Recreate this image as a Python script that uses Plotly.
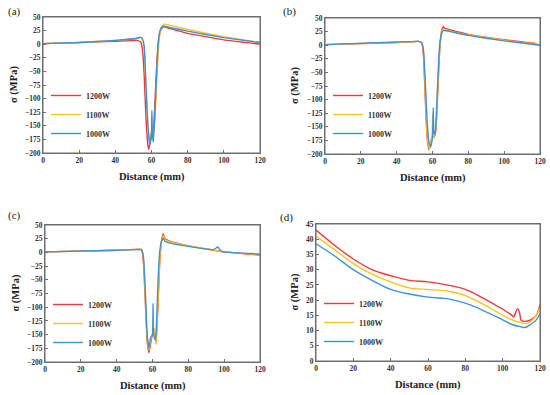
import plotly.graph_objects as go

# ---------------- data ----------------
series_names = ["1200W", "1100W", "1000W"]
colors = ["#F4363B", "#FFC41A", "#3F92D6"]

# panel (a)
a_x_1200 = [0, 20, 40, 52, 54, 55, 56, 57, 58, 58.5, 59, 60, 61, 62, 63, 64, 65, 66, 67, 70, 80, 100, 120]
a_y_1200 = [1, 3, 5.5, 7, 4, -10, -60, -140, -185, -193, -185, -170, -160, -100, -30, 10, 25, 30, 32, 29, 20, 8, 0]
a_x_1100 = [0, 20, 40, 52, 54, 55, 56, 57, 58, 59, 59.7, 60, 61, 62, 63, 64, 65, 66, 67, 70, 80, 100, 120]
a_y_1100 = [1, 3, 7, 10, 12, 8, -10, -80, -150, -180, -165, -160, -178, -130, -60, 0, 25, 33, 37, 35, 27, 14, 3]
a_x_1000 = [0, 20, 40, 52, 54, 55, 56, 57, 58, 59, 59.6, 60, 60.2, 60.5, 61, 62, 63, 64, 65, 66, 67, 70, 80, 100, 120]
a_y_1000 = [1, 3, 7, 11, 13, 10, -5, -80, -150, -185, -175, -162, -122, -165, -180, -120, -40, 10, 28, 33, 33, 31, 24, 12, 3]

# panel (b)
b_x_1200 = [0, 40, 52, 54, 55, 56, 57, 58, 59, 60, 61, 62, 63, 64, 65, 66, 67, 70, 80, 100, 115, 120]
b_y_1200 = [1, 5, 7, 5, -20, -100, -170, -192, -180, -165, -170, -150, -80, -10, 25, 34, 31, 28, 20, 10, 4, 0]
b_x_1100 = [0, 40, 52, 54, 55, 56, 57, 58, 58.5, 59, 59.8, 60.1, 60.5, 61, 62, 63, 64, 65, 66, 67, 70, 80, 100, 115, 116.5, 118, 120]
b_y_1100 = [1, 5, 7, 5, -15, -90, -165, -188, -190, -180, -165, -127, -165, -170, -148, -75, -5, 22, 30, 29, 26, 19, 9, 3, 5.5, 2, 0]
b_x_1000 = [0, 40, 52, 54, 55, 56, 57, 58, 59, 60, 60.4, 60.8, 61.5, 62, 63, 64, 65, 66, 67, 70, 80, 100, 120]
b_y_1000 = [1, 6, 7, 4, -10, -70, -140, -178, -187, -170, -115, -160, -165, -140, -60, 0, 20, 27, 27, 25, 18, 8, 0]

# panel (c)
c_x_1200 = [0, 40, 53, 54, 55, 56, 57, 58, 59, 60, 61, 62, 63, 64, 65, 66, 67, 70, 80, 96, 100, 120]
c_y_1200 = [1, 4, 6, 5, -20, -90, -160, -183, -165, -150, -140, -165, -100, -20, 20, 34, 25, 20, 12, 3, 1, -5]
c_x_1100 = [0, 40, 53, 54, 55, 56, 57, 58, 59, 60, 61, 62, 63, 64, 65, 66, 67, 70, 80, 96, 100, 120]
c_y_1100 = [1, 4, 6, 5, -15, -85, -155, -178, -160, -148, -140, -168, -95, -15, 20, 31, 23, 19, 12, 3, 1, -4]
c_x_1000 = [0, 40, 53, 54, 55, 56, 57, 58, 59, 60, 60.3, 60.6, 61.5, 62, 63, 64, 65, 66, 67, 70, 80, 94, 96.5, 98, 100, 120]
c_y_1000 = [1, 4, 5, 4, -10, -70, -150, -175, -155, -150, -93, -150, -160, -150, -60, 0, 20, 26, 20, 17, 11, 5, 10, 3, 1, -3]

# panel (d)
d_x_1200 = [0, 10, 20, 30, 40, 50, 60, 70, 80, 90, 100, 105, 106, 107, 108, 109, 110, 112, 115, 118, 120]
d_y_1200 = [43, 38, 33.5, 30, 28, 26.5, 26, 25, 23.5, 20.5, 17, 15, 14.5, 16, 17.2, 16, 13.3, 13, 13.5, 15, 18.5]
d_x_1100 = [0, 10, 20, 30, 40, 50, 60, 70, 80, 90, 100, 105, 110, 113, 116, 118, 120]
d_y_1100 = [41, 36.5, 32, 28.5, 26, 24, 23.5, 23, 21.5, 18.5, 15, 13.5, 12.5, 12.3, 13.5, 15, 17.5]
d_x_1000 = [0, 10, 20, 30, 40, 50, 60, 70, 80, 90, 100, 105, 110, 112, 115, 118, 120]
d_y_1000 = [38.5, 34.5, 30, 26.5, 23.5, 22, 21, 20.5, 19, 16.5, 13.5, 12, 11.2, 11, 12, 13.5, 15.5]

x_ticks = [0, 20, 40, 60, 80, 100, 120]
y_ticks_abc = [50, 25, 0, -25, -50, -75, -100, -125, -150, -175, -200]
y_ticks_d = [0, 5, 10, 15, 20, 25, 30, 35, 40, 45]
panel_labels = ["(a)", "(b)", "(c)", "(d)"]
x_title = "Distance (mm)"
y_title = "σ (MPa)"

# ---------------- figure ----------------
W, H = 550, 395
SERIF = "Liberation Serif, Times New Roman, serif"
FRAME = "#6e6e6e"


def px(xp):
    return xp / W


def py(yp):
    return 1 - yp / H


panels = [
    dict(data=[(a_x_1200, a_y_1200), (a_x_1100, a_y_1100), (a_x_1000, a_y_1000)],
         xdom=(43, 260), ydom=(17, 153), yr=(-200, 50), yt=y_ticks_abc,
         label_pos=(14, 11), ytitle_x=14, smooth=0.3, legend_pos=(46, 81)),
    dict(data=[(b_x_1200, b_y_1200), (b_x_1100, b_y_1100), (b_x_1000, b_y_1000)],
         xdom=(325, 540), ydom=(18, 154), yr=(-200, 50), yt=y_ticks_abc,
         label_pos=(289, 11), ytitle_x=295, smooth=0.3, legend_pos=(328, 81)),
    dict(data=[(c_x_1200, c_y_1200), (c_x_1100, c_y_1100), (c_x_1000, c_y_1000)],
         xdom=(45, 260), ydom=(225, 362), yr=(-200, 50), yt=y_ticks_abc,
         label_pos=(14, 215), ytitle_x=15, smooth=0.3, legend_pos=(48, 290)),
    dict(data=[(d_x_1200, d_y_1200), (d_x_1100, d_y_1100), (d_x_1000, d_y_1000)],
         xdom=(316, 540), ydom=(224, 361), yr=(0, 45), yt=y_ticks_d,
         label_pos=(286, 217), ytitle_x=294, smooth=1.0, legend_pos=(319, 289)),
]

fig = go.Figure()
annotations = []
shapes = []
layout = {}
for i, p in enumerate(panels):
    n = "" if i == 0 else str(i + 1)
    xa, ya = "x" + n, "y" + n
    lg = "legend" + n
    for j, (xs, ys) in enumerate(p["data"]):
        fig.add_trace(go.Scatter(
            x=xs, y=ys, mode="lines", name=series_names[j],
            line=dict(color=colors[j], width=1.4, shape="spline", smoothing=p["smooth"]),
            xaxis=xa, yaxis=ya, legend=lg, showlegend=True, cliponaxis=True))
    x0, x1 = p["xdom"]
    t, b = p["ydom"]
    common = dict(showline=True, linecolor=FRAME, linewidth=1, mirror=True,
                  ticks="inside", ticklen=3, tickcolor=FRAME, showgrid=False, zeroline=False,
                  automargin=False,
                  tickfont=dict(family=SERIF, size=7.5, color="#333333", weight="bold"))
    layout["xaxis" + n] = dict(domain=[px(x0), px(x1)], range=[0, 120], tickvals=x_ticks,
                               anchor=ya, **common)
    layout["yaxis" + n] = dict(domain=[py(b), py(t)], range=list(p["yr"]), tickvals=p["yt"],
                               anchor=xa, **common)
    # full frame round the plot area
    shapes.append(dict(type="rect", xref=xa + " domain", yref=ya + " domain",
                       x0=0, x1=1, y0=0, y1=1, line=dict(color=FRAME, width=1),
                       fillcolor="rgba(0,0,0,0)", layer="above"))
    lx, ly = p["legend_pos"]
    layout[lg] = dict(x=px(lx), y=py(ly), xanchor="left", yanchor="top",
                      bgcolor="rgba(0,0,0,0)", tracegroupgap=0,
                      font=dict(family=SERIF, size=8, color="#333333", weight="bold"))
    annotations.append(dict(text=panel_labels[i], x=px(p["label_pos"][0]), y=py(p["label_pos"][1]),
                            xref="paper", yref="paper", showarrow=False, xanchor="center", yanchor="middle",
                            font=dict(family=SERIF, size=11, color="#222222")))
    annotations.append(dict(text=x_title, x=px((x0 + x1) / 2), y=py(b + 24),
                            xref="paper", yref="paper", showarrow=False, xanchor="center", yanchor="middle",
                            font=dict(family=SERIF, size=10.5, color="#222222", weight="bold")))
    annotations.append(dict(text=y_title, x=px(p["ytitle_x"]), y=py((t + b) / 2),
                            xref="paper", yref="paper", showarrow=False, xanchor="center", yanchor="middle",
                            textangle=-90,
                            font=dict(family=SERIF, size=10.5, color="#222222", weight="bold")))

fig.update_layout(width=W, height=H, margin=dict(l=0, r=0, t=0, b=0, autoexpand=False),
                  paper_bgcolor="white", plot_bgcolor="white",
                  annotations=annotations, shapes=shapes, **layout)
# remove the browser's default page margin so the 550x395 figure fills the window
fig.write_html("out.html", config={"displayModeBar": False},
               post_script="document.body.style.margin='0';document.body.style.overflow='hidden';")
